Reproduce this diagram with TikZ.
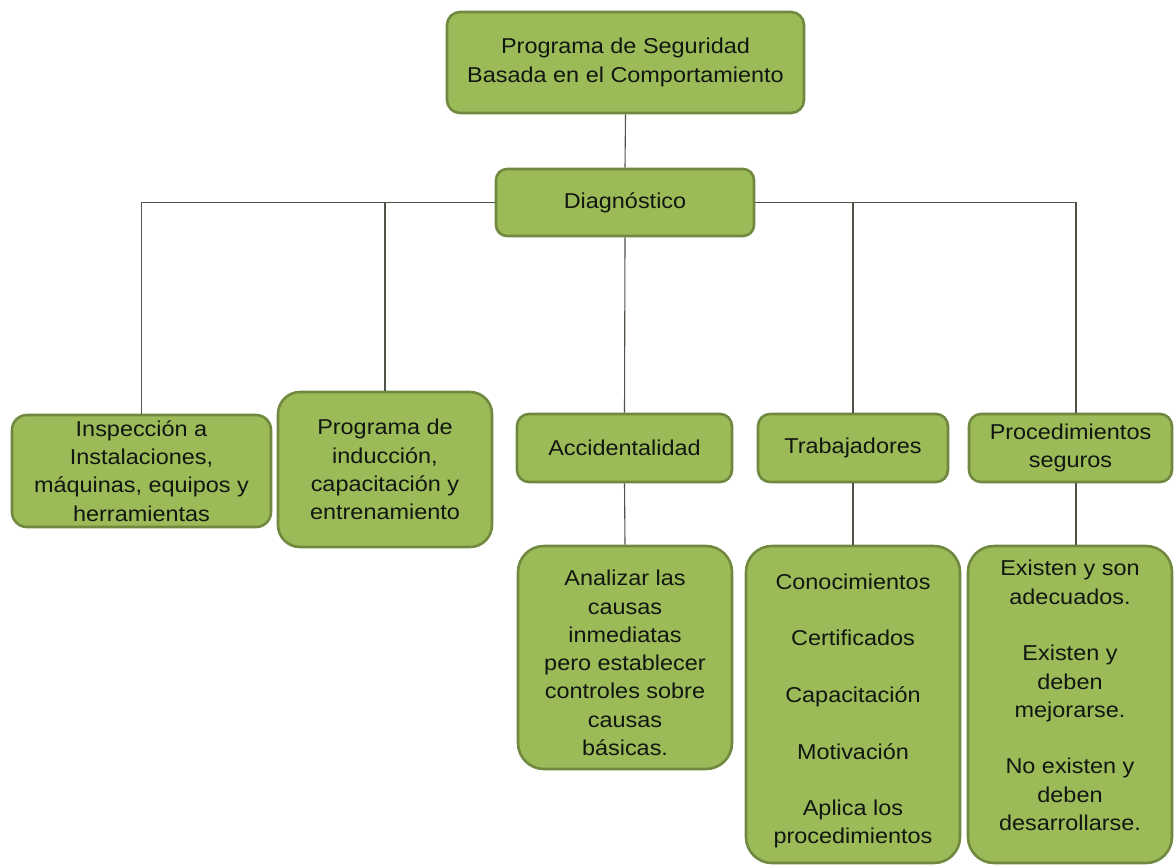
\documentclass[tikz,border=0pt]{standalone}
\usepackage{fontspec}
\setmainfont[FakeStretch=1.09]{Liberation Sans}
\definecolor{boxfill}{HTML}{9BBB59}
\definecolor{boxline}{HTML}{71893F}
\definecolor{conn}{HTML}{4F5246}
\definecolor{txt}{HTML}{121610}
\tikzset{
  box/.style={draw=boxline, line width=2.6pt, fill=boxfill, text=txt, align=center,
    inner sep=0pt, font=\fontsize{21.5}{28.3}\selectfont},
  boxtext/.style={text=txt, align=center, inner sep=0pt, font=\fontsize{21.5}{28.3}\selectfont},
  conn/.style={draw=conn, line width=1.1pt}
}
\begin{document}
\begin{tikzpicture}[x=1pt,y=-1pt]
\useasboundingbox (0,0) rectangle (1174,865);
% top level
\node[box, rounded corners=13pt, minimum width=357pt, minimum height=101pt] (top) at (625.5,62.5)
  {Programa de Seguridad\\Basada en el Comportamiento};
\node[box, rounded corners=11pt, minimum width=258pt, minimum height=67pt] (diag) at (625,202.5)
  {Diagnóstico};
% second level
\node[box, rounded corners=15pt, minimum width=259pt, minimum height=112pt] (insp) at (141.5,471)
  {Inspección a\\Instalaciones,\\máquinas, equipos y\\herramientas};
\node[box, rounded corners=22pt, minimum width=214pt, minimum height=155pt] (prog) at (385,469.5)
  {Programa de\\inducción,\\capacitación y\\entrenamiento};
\node[box, rounded corners=12pt, minimum width=215pt, minimum height=68pt] (acc) at (624.5,448)
  {Accidentalidad};
\node[box, rounded corners=12pt, minimum width=190pt, minimum height=68pt] (trab) at (853,448)
  {Trabajadores};
\node[box, rounded corners=12pt, minimum width=203pt, minimum height=68pt] (proc) at (1070.5,448)
  {Procedimientos\\seguros};
% third level
\node[box, rounded corners=26pt, minimum width=214pt, minimum height=223pt] (anal) at (625,657.5) {};
\node[boxtext] (analt) at (625,663)
  {Analizar las\\causas\\inmediatas\\pero establecer\\controles sobre\\causas\\básicas.};
\node[box, rounded corners=26pt, minimum width=214pt, minimum height=317pt] (cono) at (853,704.5) {};
\node[boxtext] (conot) at (853,711)
  {Conocimientos\\[28.3pt]Certificados\\[28.3pt]Capacitación\\[28.3pt]Motivación\\[28.3pt]Aplica los\\procedimientos};
\node[box, rounded corners=26pt, minimum width=204pt, minimum height=317pt] (exist) at (1070,704.5) {};
\node[boxtext] (existt) at (1070,695.5)
  {Existen y son\\adecuados.\\[28.3pt]Existen y\\deben\\mejorarse.\\[28.3pt]No existen y\\deben\\desarrollarse.};
% connectors
\coordinate (pn) at ([xshift=5.5pt]proc.north);
\coordinate (ps) at ([xshift=5.5pt]proc.south);
\draw[conn] (top.south) -- (diag.north);
\draw[conn] (diag.west) -| (insp.north);
\draw[conn] (diag.west -| prog.north) -- (prog.north);
\draw[conn] (diag.south) -- (acc.north);
\draw[conn] (diag.east) -| (pn);
\draw[conn] (diag.east -| trab.north) -- (trab.north);
\draw[conn] (acc.south) -- (anal.north);
\draw[conn] (trab.south) -- (cono.north);
\draw[conn] (ps) -- (ps |- exist.north);
\end{tikzpicture}
\end{document}
